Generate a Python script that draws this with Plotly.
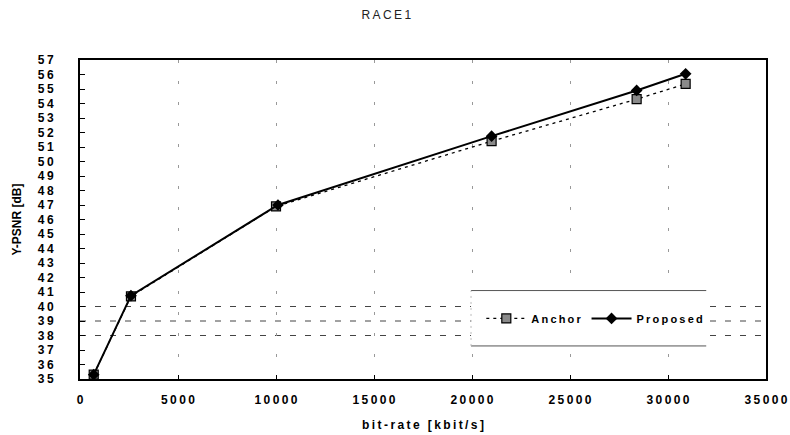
import plotly.graph_objects as go

# Data
bitrate_anchor = [700, 2600, 10000, 21000, 28400, 30900]
psnr_anchor = [35.3, 40.7, 46.9, 51.4, 54.3, 55.35]
bitrate_proposed = [700, 2600, 10100, 21000, 28400, 30900]
psnr_proposed = [35.3, 40.75, 47.0, 51.75, 54.9, 56.05]
ref_levels = [38, 39, 40]
y_ticks = list(range(35, 58))
x_ticks = [0, 5000, 10000, 15000, 20000, 25000, 30000, 35000]

FONT = "Liberation Sans, Arial, sans-serif"
TS = "\u2009"  # thin space used to imitate the letter-spaced typeface


def spaced(s):
    return TS.join(list(str(s)))


fig = go.Figure()

# Horizontal reference lines (dashed)
for lv in ref_levels:
    fig.add_shape(type="line", xref="paper", x0=0, x1=1, yref="y", y0=lv, y1=lv,
                  line=dict(color="#444", width=1, dash="6px,9px"), layer="below")

# Legend box (white background with top/bottom rules)
fig.add_shape(type="rect", xref="x", yref="y", x0=19950, x1=31950, y0=37.28, y1=41.1,
              fillcolor="white", line=dict(width=0), layer="above")
for yy in [37.28, 41.1]:
    fig.add_shape(type="line", xref="x", yref="y", x0=19950, x1=31950, y0=yy, y1=yy,
                  line=dict(color="#555", width=1), layer="above")
fig.add_shape(type="line", xref="x", yref="y", x0=19950, x1=19950, y0=37.28, y1=41.1,
              line=dict(color="#bbb", width=1, dash="2px,4px"), layer="above")

fig.add_trace(go.Scatter(
    x=bitrate_anchor, y=psnr_anchor, name=spaced("Anchor"), mode="lines+markers",
    line=dict(color="black", width=1.3, dash="3px,4px"),
    marker=dict(symbol="square", size=9, color="#8a8a8a", line=dict(color="black", width=1.2)),
))
fig.add_trace(go.Scatter(
    x=bitrate_proposed, y=psnr_proposed, name=spaced("Proposed"), mode="lines+markers",
    line=dict(color="black", width=2),
    marker=dict(symbol="diamond", size=9, color="black", line=dict(color="black", width=0)),
))

fig.update_layout(
    width=790, height=435,
    margin=dict(l=80, r=24, t=60, b=56),
    paper_bgcolor="white", plot_bgcolor="white",
    font=dict(family=FONT, color="black"),
    title=dict(text=spaced("RACE1"), x=0.489, xanchor="center", y=0.967, yanchor="middle",
               font=dict(family=FONT, size=12, color="#222")),
    showlegend=True,
    legend=dict(orientation="h", x=0.585, xanchor="left", y=0.19, yanchor="middle",
                bgcolor="rgba(0,0,0,0)", borderwidth=0,
                font=dict(family=FONT, size=11, color="black", weight="bold"),
                itemwidth=40),
)

fig.update_xaxes(
    range=[0, 35000], tickvals=x_ticks, ticktext=[spaced(v) for v in x_ticks],
    showline=True, linecolor="black", linewidth=2, mirror=True,
    ticks="inside", ticklen=4, tickcolor="black", tickwidth=1,
    showgrid=True, gridcolor="#999", gridwidth=1, griddash="3px,18px",
    zeroline=False, automargin=False,
    ticklabelstandoff=9,
    tickfont=dict(family=FONT, size=12, weight="bold"),
    title=dict(text=spaced("bit-rate [kbit/s]"), font=dict(family=FONT, size=12, weight="bold"), standoff=14),
)
fig.update_yaxes(
    range=[35, 57], tickvals=y_ticks, ticktext=[spaced(v) for v in y_ticks],
    showline=True, linecolor="black", linewidth=2, mirror=True,
    ticks="inside", ticklen=5, tickcolor="black", tickwidth=1,
    showgrid=False, zeroline=False, automargin=False,
    ticklabelstandoff=22,
    tickfont=dict(family=FONT, size=12, weight="bold"),
    title=dict(text="Y-PSNR [dB]", font=dict(family=FONT, size=12, weight="bold"), standoff=14),
)

fig.write_html("out.html")
